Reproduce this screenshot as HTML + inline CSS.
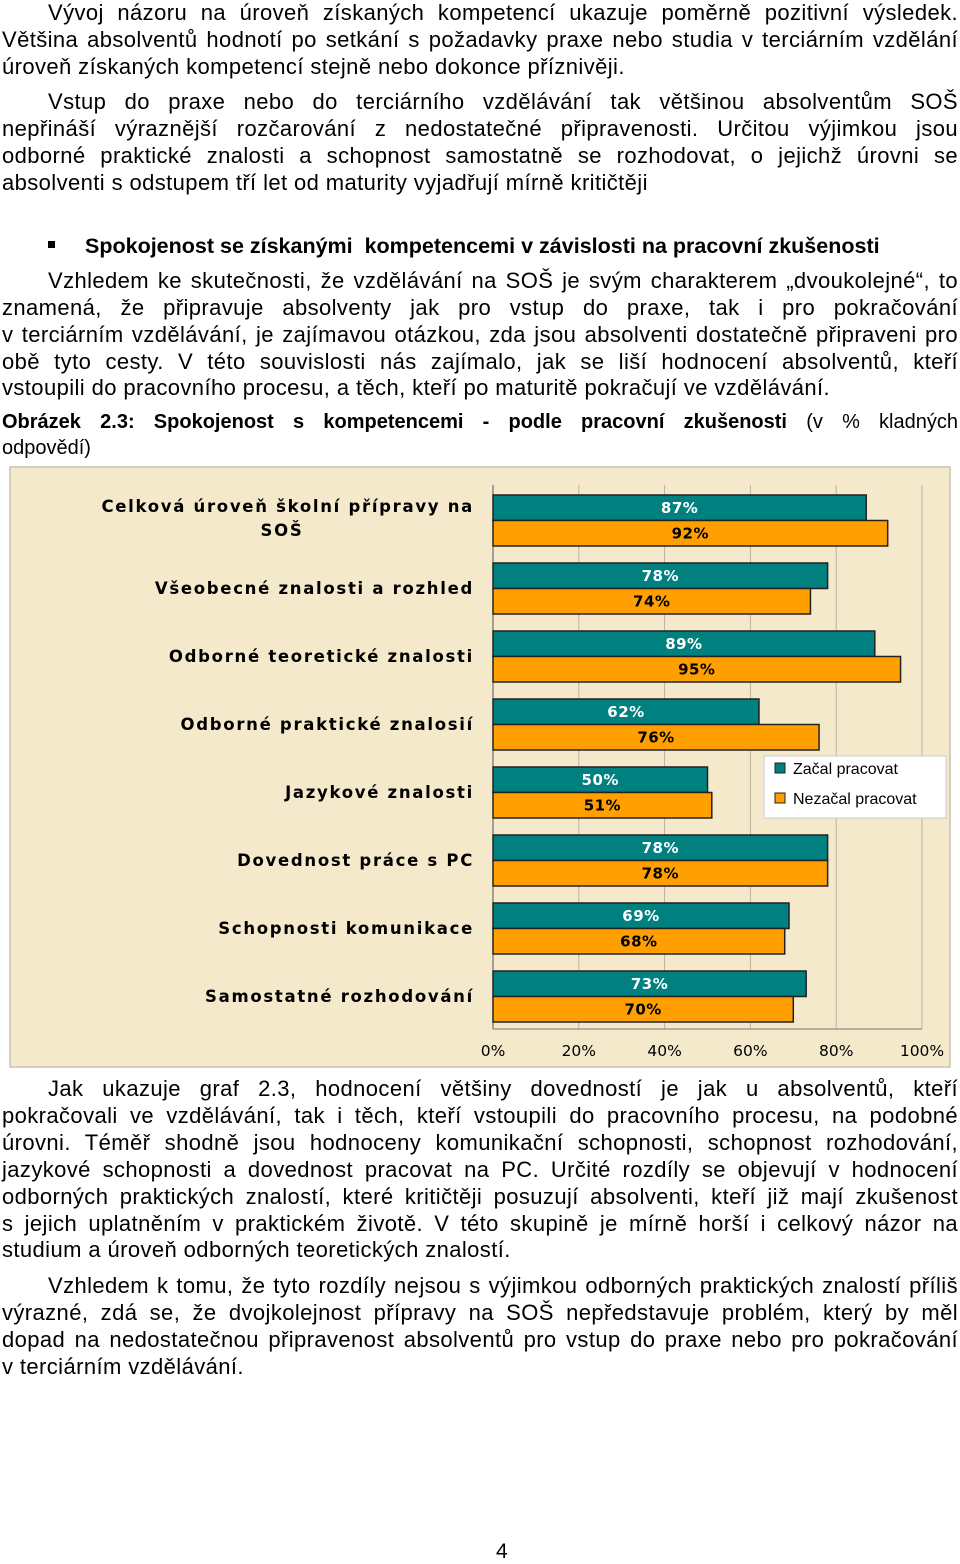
<!DOCTYPE html>
<html><head><meta charset="utf-8">
<style>
body{margin:0;width:960px;height:1561px;background:#fff;position:relative;overflow:hidden;font-family:"Liberation Sans",Arial,sans-serif;color:#000}
.l{position:absolute;left:2px;width:956px;font-size:22px;letter-spacing:0.4px;line-height:24px;white-space:nowrap;text-align:justify;text-align-last:justify}
.n{text-align-last:left}
.ind{left:48px;width:910px}
</style></head><body>
<div>
<div class="l ind" style="top:1px">Vývoj názoru na úroveň získaných kompetencí ukazuje poměrně pozitivní výsledek.</div>
<div class="l" style="top:28px">Většina absolventů hodnotí po setkání s požadavky praxe nebo studia v terciárním vzdělání</div>
<div class="l n" style="top:55px">úroveň získaných kompetencí stejně nebo dokonce příznivěji.</div>
<div class="l ind" style="top:90px">Vstup do praxe nebo do terciárního vzdělávání tak většinou absolventům SOŠ</div>
<div class="l" style="top:117px">nepřináší výraznější rozčarování z nedostatečné připravenosti. Určitou výjimkou jsou</div>
<div class="l" style="top:144px">odborné praktické znalosti a schopnost samostatně se rozhodovat, o jejichž úrovni se</div>
<div class="l n" style="top:171px">absolventi s odstupem tří let od maturity vyjadřují mírně kritičtěji</div>
</div>
<div style="position:absolute;top:234px;left:48px;font-size:21.5px;font-weight:bold;white-space:nowrap"><span style="display:inline-block;width:7px;height:7px;background:#000;vertical-align:middle;margin-right:30px;position:relative;top:-3px"></span>Spokojenost se získanými&nbsp; kompetencemi v závislosti na pracovní zkušenosti</div>
<div>
<div class="l ind" style="top:269px">Vzhledem ke skutečnosti, že vzdělávání na SOŠ je svým charakterem „dvoukolejné“, to</div>
<div class="l" style="top:296px">znamená, že připravuje absolventy jak pro vstup do praxe, tak i pro pokračování</div>
<div class="l" style="top:323px">v terciárním vzdělávání, je zajímavou otázkou, zda jsou absolventi dostatečně připraveni pro</div>
<div class="l" style="top:350px">obě tyto cesty. V této souvislosti nás zajímalo, jak se liší hodnocení absolventů, kteří</div>
<div class="l n" style="top:376px">vstoupili do pracovního procesu, a těch, kteří po maturitě pokračují ve vzdělávání.</div>
</div>
<div>
<div class="l" style="top:410px;font-size:20px;letter-spacing:0"><b>Obrázek 2.3: Spokojenost s kompetencemi - podle pracovní zkušenosti</b> (v % kladných</div>
<div class="l n" style="top:436px;font-size:20px;letter-spacing:0">odpovědí)</div>
</div>
<svg style="position:absolute;left:0;top:0" width="960" height="1561" id="chart"></svg>
<div>
<div class="l ind" style="top:1077px">Jak ukazuje graf 2.3, hodnocení většiny dovedností je jak u absolventů, kteří</div>
<div class="l" style="top:1104px">pokračovali ve vzdělávání, tak i těch, kteří vstoupili do pracovního procesu, na podobné</div>
<div class="l" style="top:1131px">úrovni. Téměř shodně jsou hodnoceny komunikační schopnosti, schopnost rozhodování,</div>
<div class="l" style="top:1158px">jazykové schopnosti a dovednost pracovat na PC. Určité rozdíly se objevují v hodnocení</div>
<div class="l" style="top:1185px">odborných praktických znalostí, které kritičtěji posuzují absolventi, kteří již mají zkušenost</div>
<div class="l" style="top:1212px">s jejich uplatněním v praktickém životě. V této skupině je mírně horší i celkový názor na</div>
<div class="l n" style="top:1238px">studium a úroveň odborných teoretických znalostí.</div>
<div class="l ind" style="top:1274px">Vzhledem k tomu, že tyto rozdíly nejsou s výjimkou odborných praktických znalostí příliš</div>
<div class="l" style="top:1301px">výrazné, zdá se, že dvojkolejnost přípravy na SOŠ nepředstavuje problém, který by měl</div>
<div class="l" style="top:1328px">dopad na nedostatečnou připravenost absolventů pro vstup do praxe nebo pro pokračování</div>
<div class="l n" style="top:1355px">v terciárním vzdělávání.</div>
</div>
<div style="position:absolute;top:1540px;left:496px;font-size:21px">4</div>
<script>
const categories=["Celková úroveň školní přípravy na SOŠ","Všeobecné znalosti a rozhled","Odborné teoretické znalosti","Odborné praktické znalosií","Jazykové znalosti","Dovednost práce s PC","Schopnosti komunikace","Samostatné rozhodování"];
const startedWork=[87,78,89,62,50,78,69,73];
const notStarted=[92,74,95,76,51,78,68,70];
const tickLabels=["0%","20%","40%","60%","80%","100%"];
const tickValues=[0,20,40,60,80,100];
const NS="http://www.w3.org/2000/svg";
const svg=document.getElementById('chart');
const X0=493,X1=922,Y0=485,Y1=1029;
const xs=v=>X0+(X1-X0)*v/100;
const band=(Y1-Y0)/categories.length;
function mk(t,a,p){const e=document.createElementNS(NS,t);for(const k in a)e.setAttribute(k,a[k]);(p||svg).appendChild(e);return e;}
const bg=mk('rect',{x:10,y:467,width:940,height:600,fill:'#f5e9cc',stroke:'#c9c0ae','stroke-width':1.5});


tickValues.forEach((v,i)=>{
  const g=mk('line',{x1:xs(v),x2:xs(v),y1:Y0,y2:Y1,stroke:i==0?'#555':'#bbb0a0','stroke-width':1});
  
  
  const t=mk('text',{x:xs(v),y:1056,'text-anchor':'middle','font-size':15.5,'font-family':'DejaVu Sans, sans-serif'});
  t.textContent=tickLabels[i];
  
  
});
mk('line',{x1:X0,x2:X1,y1:Y1,y2:Y1,stroke:'#777','stroke-width':1});
categories.forEach((c,i)=>{
  const top=Y0+i*band+10,h=25.5;
  [[startedWork[i],'#00807f','#fff',top],[notStarted[i],'#ff9f00','#000',top+h]].forEach((s,j)=>{
    const r=mk('rect',{x:X0,y:s[3],width:xs(s[0])-X0,height:h,fill:s[1],stroke:'#222','stroke-width':1.5});
    
    
    const t=mk('text',{x:(X0+xs(s[0]))/2,y:s[3]+18,'text-anchor':'middle','font-size':15,'font-weight':'bold',fill:s[2],'font-family':'DejaVu Sans, sans-serif','letter-spacing':0.5});
    t.textContent=s[0]+'%';
    
    
  });
  const words=i==0?["Celková úroveň školní přípravy na","SOŠ"]:[c];
  words.forEach((w,k)=>{
    const t=mk('text',{x:i==0&&k==1?282:474,y:(i==0?Y0+i*band+27+k*24:Y0+i*band+41),'text-anchor':i==0&&k==1?'middle':'end','font-size':16.5,'font-weight':'bold','font-family':'DejaVu Sans, sans-serif','letter-spacing':1.7});
    t.textContent=w;
    
    
  });
});
const lg=mk('g',{});


mk('rect',{x:764,y:756,width:182,height:62,fill:'#fff',stroke:'#ccc'},lg);
[['Začal pracovat','#00807f',769],['Nezačal pracovat','#ff9f00',799]].forEach(l=>{
  const r=mk('rect',{x:775,y:l[2]-6,width:10,height:10,fill:l[1],stroke:'#222'},lg);
  
  
  const t=mk('text',{x:793,y:l[2]+5,'font-size':16,'font-family':'Liberation Sans, sans-serif'},lg);
  t.textContent=l[0];
  
  
});
</script>
</body></html>
